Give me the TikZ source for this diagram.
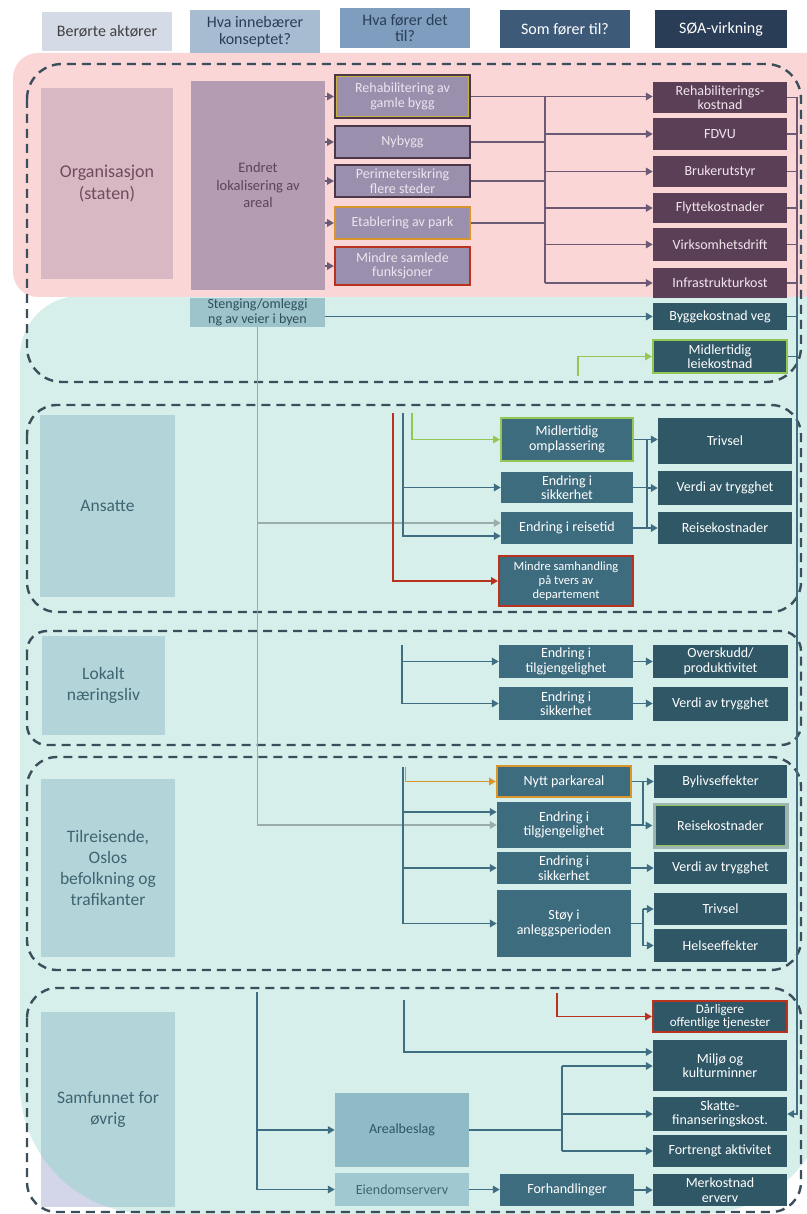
\documentclass[tikz,border=0pt]{standalone}
\usepackage{fontspec}
\setmainfont{Carlito}
\usetikzlibrary{arrows.meta}
\definecolor{pinkbg}{HTML}{FBD6D6}
\definecolor{mintbg}{HTML}{D6EFEA}
\definecolor{hdra}{HTML}{D4DAE6}
\definecolor{hdrb}{HTML}{A7BCD1}
\definecolor{hdrc}{HTML}{7E9DBF}
\definecolor{hdrd}{HTML}{3E5A79}
\definecolor{hdre}{HTML}{2A3D56}
\definecolor{orgfill}{HTML}{D8B8C3}
\definecolor{orgtext}{HTML}{6E4C5E}
\definecolor{endfill}{HTML}{B49DB3}
\definecolor{endtext}{HTML}{5C4558}
\definecolor{purpfill}{HTML}{9A90AE}
\definecolor{purptext}{HTML}{EFE3EE}
\definecolor{purpdark}{HTML}{4B3747}
\definecolor{plum}{HTML}{5B3F56}
\definecolor{plumtext}{HTML}{F2E6EE}
\definecolor{pinkln}{HTML}{6B5A75}
\definecolor{actorfill}{HTML}{B3D4D8}
\definecolor{actortext}{HTML}{3E6572}
\definecolor{stenfill}{HTML}{9DC3CB}
\definecolor{stentext}{HTML}{2F4F5C}
\definecolor{tealmid}{HTML}{3E6C7F}
\definecolor{tealdark}{HTML}{2F5766}
\definecolor{tealln}{HTML}{3F6E82}
\definecolor{grayln}{HTML}{9AACAC}
\definecolor{redb}{HTML}{B8321F}
\definecolor{greenb}{HTML}{93C653}
\definecolor{orangeb}{HTML}{D9962C}
\definecolor{yellowb}{HTML}{C9B042}
\definecolor{arealfill}{HTML}{8EBBC5}
\definecolor{eiendfill}{HTML}{9FC8D0}
\definecolor{arealtext}{HTML}{2F5565}
\definecolor{lavender}{HTML}{D3D5E8}
\definecolor{grpcol}{HTML}{3B4E5C}
\definecolor{halo}{HTML}{9FB5B5}
\begin{document}
\begin{tikzpicture}[x=1pt,y=-1pt,
  base/.style={inner sep=0.5pt, align=center, font=\fontsize{14}{14.5}\selectfont},
  hdr/.style={base, font=\fontsize{16}{16.5}\selectfont, minimum width=130pt},
  cost/.style={base, fill=plum, text=plumtext, minimum width=134pt},
  purp/.style={base, fill=purpfill, text=purptext, minimum width=135pt},
  tb/.style={base, fill=tealmid, text=white, minimum width=134pt},
  tbd/.style={base, fill=tealdark, text=white, minimum width=134pt},
  actor/.style={align=center, font=\fontsize{17.5}{21}\selectfont, fill=actorfill, text=actortext},
  grp/.style={draw=grpcol, line width=2.4pt, dash pattern=on 9pt off 6pt},
  ln/.style={line width=1.8pt},
  arr/.style={line width=1.8pt, -{Triangle[length=7pt,width=7.5pt]}},
]
\useasboundingbox (0,0) rectangle (806,1214);
\fill[white] (0,0) rectangle (806,1214);
% backgrounds
\fill[mintbg, rounded corners=60pt] (830,296) -- (20,296) -- (20,700) [rounded corners=130pt] -- (20,1214) -- (830,1214) [sharp corners] -- cycle;
\fill[pinkbg, rounded corners=25pt] (13,53) rectangle (830,297);

% headers
\node[hdr, fill=hdra, text=black!75, minimum height=39pt] (h1) at (107,31.5) {Berørte aktører};
\node[hdr, fill=hdrb, text=hdre, minimum height=43pt] (h2) at (255,31.5) {Hva innebærer\\konseptet?};
\node[hdr, fill=hdrc, text=hdre, minimum height=40pt] (h3) at (405,28) {Hva fører det\\til?};
\node[hdr, fill=hdrd, text=white, minimum height=38pt] (h4) at (565,29) {Som fører til?};
\node[hdr, fill=hdre, text=white, minimum height=38pt, minimum width=132pt] (h5) at (721,29) {SØA-virkning};

% groups
\draw[grp, rounded corners=35pt] (27,64) rectangle (801,382);
\draw[grp, rounded corners=30pt] (27,405) rectangle (801,612);
\draw[grp, rounded corners=20pt] (27,631) rectangle (801,745);
\draw[grp, rounded corners=30pt] (27,757) rectangle (801,970);
\draw[grp, rounded corners=30pt] (27,988) rectangle (801,1212);

% Organisasjon
\node[align=center, fill=orgfill, text=orgtext, font=\fontsize{18}{21.5}\selectfont, minimum width=132pt, minimum height=191pt] (org) at (107,183.5) {Organisasjon\\(staten)};
\node[align=center, fill=endfill, text=endtext, font=\fontsize{14.5}{17.5}\selectfont, minimum width=134pt, minimum height=209pt] (endret) at (258,185.5) {Endret\\lokalisering av\\areal};
\node[purp, draw=purpdark, line width=2pt, minimum height=43pt] (rehab) at (402.5,96.5) {Rehabilitering av\\gamle bygg};
\draw[yellowb, line width=1.2pt] ([shift={(2.2pt,-2.2pt)}]rehab.north west) rectangle ([shift={(-2.2pt,2.2pt)}]rehab.south east);
\node[purp, draw=purpdark, line width=2pt, minimum height=32pt] (nybygg) at (402.5,142) {Nybygg};
\node[purp, draw=purpdark, line width=2pt, minimum height=32pt] (perim) at (402.5,181) {Perimetersikring\\flere steder};
\node[purp, draw=orangeb, line width=2pt, minimum height=32pt] (etab) at (402.5,223) {Etablering av park};
\node[purp, draw=redb, line width=2pt, minimum height=38pt] (mindre) at (402.5,266) {Mindre samlede\\funksjoner};

\node[cost, minimum height=31pt] (rehabk) at (720,97.5) {Rehabiliterings-\\kostnad};
\node[cost, minimum height=32pt] (fdvu) at (720,134) {FDVU};
\node[cost, minimum height=31pt] (bruk) at (720,171.5) {Brukerutstyr};
\node[cost, minimum height=30pt] (flytte) at (720,208) {Flyttekostnader};
\node[cost, minimum height=33pt] (virk) at (720,244.5) {Virksomhetsdrift};
\node[cost, minimum height=30pt] (infra) at (720,283) {Infrastrukturkost};

\node[base, fill=stenfill, text=stentext, minimum width=135pt, minimum height=29pt] (sten) at (257.5,312.5) {Stenging/omleggi\\ng av veier i byen};
\node[tbd, minimum height=27pt] (bygg) at (720,316.5) {Byggekostnad veg};
\node[tbd, draw=greenb, line width=2pt, minimum height=33pt] (leie) at (720,356.5) {Midlertidig\\leiekostnad};

% Ansatte
\node[actor, minimum width=135pt, minimum height=182pt] (ans) at (107.5,506) {Ansatte};
\node[tb, draw=greenb, line width=2pt, minimum width=132pt, minimum height=43pt] (omp) at (567,439.5) {Midlertidig\\omplassering};
\node[tb, minimum width=132pt, minimum height=31pt] (sik1) at (567,487.5) {Endring i\\sikkerhet};
\node[tb, minimum width=132pt, minimum height=32pt] (reise1) at (567,528) {Endring i reisetid};
\node[tb, draw=redb, line width=2pt, minimum height=50pt, font=\fontsize{12.5}{14}\selectfont] (samh) at (566,581) {Mindre samhandling\\på tvers av\\departement};
\node[tbd, minimum height=46pt] (triv1) at (725,441) {Trivsel};
\node[tbd, minimum height=34pt] (verdi1) at (725,488) {Verdi av trygghet};
\node[tbd, minimum height=32pt] (reisek1) at (725,528) {Reisekostnader};

% Lokalt
\node[actor, minimum width=123pt, minimum height=99pt] (lok) at (103.5,685.5) {Lokalt\\næringsliv};
\node[tb, minimum height=33pt] (tilg1) at (566,661.5) {Endring i\\tilgjengelighet};
\node[tb, minimum height=33pt] (sik2) at (566,703.5) {Endring i\\sikkerhet};
\node[tbd, minimum width=135pt, minimum height=33pt] (overs) at (720.5,661.5) {Overskudd/\\produktivitet};
\node[tbd, minimum width=135pt, minimum height=34pt] (verdi2) at (720.5,703.5) {Verdi av trygghet};

% Tilreisende
\node[actor, minimum width=134pt, minimum height=178pt] (tilr) at (108,868) {Tilreisende,\\Oslos\\befolkning og\\trafikanter};
\node[tb, draw=orangeb, line width=2pt, minimum height=31pt] (park) at (564,781.5) {Nytt parkareal};
\node[tb, minimum height=46pt] (tilg2) at (564,825) {Endring i\\tilgjengelighet};
\node[tb, minimum height=32pt] (sik3) at (564,868) {Endring i\\sikkerhet};
\node[tb, minimum height=67pt] (stoy) at (564,923.5) {Støy i\\anleggsperioden};
\node[tbd, minimum width=133pt, minimum height=33pt] (byliv) at (720.5,781.5) {Bylivseffekter};
\node[tbd, draw=halo, line width=3pt, minimum width=133pt, minimum height=43pt] (reisek2) at (720.5,825.5) {Reisekostnader};
\draw[greenb, line width=1.4pt] ([shift={(3pt,-3pt)}]reisek2.north west) rectangle ([shift={(-3pt,3pt)}]reisek2.south east);
\node[tbd, minimum width=133pt, minimum height=32pt] (verdi3) at (720.5,868) {Verdi av trygghet};
\node[tbd, minimum width=133pt, minimum height=32pt] (triv2) at (720.5,909) {Trivsel};
\node[tbd, minimum width=133pt, minimum height=33pt] (helse) at (720.5,945.5) {Helseeffekter};

% Samfunnet
\fill[lavender] (41,1012) rectangle (175,1207);
\begin{scope}
\clip[rounded corners=60pt] (830,296) -- (20,296) -- (20,700) [rounded corners=130pt] -- (20,1214) -- (830,1214) [sharp corners] -- cycle;
\fill[actorfill] (41,1012) rectangle (175,1207);
\end{scope}
\node[align=center, font=\fontsize{17.5}{21}\selectfont, text=actortext, minimum width=134pt, minimum height=195pt] (samf) at (108,1109.5) {Samfunnet for\\øvrig};
\node[base, fill=arealfill, text=arealtext, minimum width=134pt, minimum height=74pt] (areal) at (402,1130) {Arealbeslag};
\node[base, fill=eiendfill, text=actortext, minimum width=134pt, minimum height=33pt] (eiend) at (402,1189.5) {Eiendomserverv};
\node[tb, minimum height=32pt] (forh) at (567,1190) {Forhandlinger};
\node[tbd, draw=redb, line width=2pt, minimum height=31pt, font=\fontsize{13}{13.5}\selectfont] (dar) at (720,1016.5) {Dårligere\\offentlige tjenester};
\node[tbd, minimum height=51pt] (miljo) at (720,1065.5) {Miljø og\\kulturminner};
\node[tbd, minimum height=34pt] (skatt) at (720,1114) {Skatte-\\finanseringskost.};
\node[tbd, minimum height=32pt] (fortr) at (720,1151) {Fortrengt aktivitet};
\node[tbd, minimum height=32pt] (merk) at (720,1190) {Merkostnad\\erverv};

% ---------- connectors ----------
% pink section
\foreach \n in {rehab,nybygg,perim,etab,mindre}
  \draw[arr, pinkln] (endret.east |- \n.west) -- (\n.west);
\draw[arr, pinkln] (rehab.east) -- (rehab.east -| rehabk.west);
\coordinate (pb) at (545,96.5);
\draw[ln, pinkln] (pb) -- (pb |- infra.west);
\foreach \n in {nybygg,perim,etab}
  \draw[ln, pinkln] (\n.east) -- (\n.east -| pb);
\foreach \n in {fdvu,bruk,flytte,virk,infra}
  \draw[arr, pinkln] (pb |- \n.west) -- (\n.west);
% right collector
\coordinate (rb) at (797,97.5);
\foreach \n in {rehabk,fdvu,bruk,flytte,virk,infra}
  \draw[ln, pinkln] (\n.east) -- (\n.east -| rb);
\draw[ln, pinkln] (rb) -- (797,296);
\foreach \n in {bygg,leie}
  \draw[ln, tealln] (\n.east) -- (\n.east -| rb);
\coordinate (rbm) at (797,296);
\draw[arr, tealln] (rbm) |- (skatt.east);
% Stenging
\draw[arr, tealln] (sten.east |- bygg.west) -- (bygg.west);
\coordinate (gL) at (578,376);
\draw[arr, greenb] (gL) |- (leie.west);
\draw[arr, grayln] (sten.south) |- (tilg2.west);
\coordinate (gA) at (257.5,523);
\draw[arr, grayln] (gA) -- (gA -| reise1.west);
% Ansatte
\coordinate (rA) at (393,413);
\draw[arr, redb] (rA) |- (samh.west);
\coordinate (bA) at (403,413);
\coordinate (bA2) at (403,536);
\draw[arr, tealln] (bA) |- (bA2 -| reise1.west);
\draw[arr, tealln] (bA |- sik1.west) -- (sik1.west);
\coordinate (gA0) at (412,413);
\draw[arr, greenb] (gA0) |- (omp.west);
\coordinate (aRt) at (647,439.5);
\coordinate (aRb) at (647,528);
\draw[ln, tealln] (omp.east) -- (aRt) -- (aRb);
\draw[ln, tealln] (sik1.east) -- (sik1.east -| aRt);
\draw[ln, tealln] (reise1.east) -- (aRb);
\draw[arr, tealln] (aRt) -- (aRt -| triv1.west);
\draw[arr, tealln] (aRt |- verdi1.west) -- (verdi1.west);
\draw[arr, tealln] (aRb) -- (reisek1.west);
% Lokalt
\coordinate (lB) at (402,645);
\draw[arr, tealln] (lB) |- (sik2.west);
\draw[arr, tealln] (lB |- tilg1.west) -- (tilg1.west);
\draw[arr, tealln] (tilg1.east) -- (overs.west);
\draw[arr, tealln] (sik2.east) -- (verdi2.west);
% Tilreisende
\coordinate (tB) at (403,767);
\draw[arr, tealln] (tB) |- (stoy.west);
\coordinate (tB1) at (403,812);
\draw[arr, tealln] (tB1) -- (tB1 -| tilg2.west);
\draw[arr, tealln] (tB |- sik3.west) -- (sik3.west);
\coordinate (oT) at (405.5,767);
\draw[arr, orangeb] (oT) |- (park.west);
\coordinate (tR1) at (643,781.5);
\draw[ln, tealln] (park.east) -- (tR1) -- (tR1 |- reisek2.west);
\draw[ln, tealln] (tilg2.east) -- (tilg2.east -| tR1);
\draw[arr, tealln] (tR1) -- (byliv.west);
\draw[arr, tealln] (tR1 |- reisek2.west) -- (reisek2.west);
\draw[arr, tealln] (sik3.east) -- (verdi3.west);
\coordinate (tR2) at (643,923.5);
\draw[ln, tealln] (stoy.east) -- (tR2);
\draw[ln, tealln] (tR2 |- triv2.west) -- (tR2 |- helse.west);
\draw[arr, tealln] (tR2 |- triv2.west) -- (triv2.west);
\draw[arr, tealln] (tR2 |- helse.west) -- (helse.west);
% Samfunnet
\coordinate (sB) at (257,992);
\draw[arr, tealln] (sB) |- (eiend.west);
\draw[arr, tealln] (sB |- areal.west) -- (areal.west);
\coordinate (sM) at (404,1000);
\coordinate (sM2) at (404,1052);
\draw[arr, tealln] (sM) |- (sM2 -| miljo.west);
\coordinate (sR) at (557,993);
\draw[arr, redb] (sR) |- (dar.west);
\coordinate (sA) at (562,1130);
\coordinate (sAt) at (562,1066);
\draw[ln, tealln] (areal.east) -- (sA);
\draw[ln, tealln] (sAt) -- (sA |- fortr.west);
\draw[arr, tealln] (sAt) -- (sAt -| miljo.west);
\draw[arr, tealln] (sA |- skatt.west) -- (skatt.west);
\draw[arr, tealln] (sA |- fortr.west) -- (fortr.west);
\draw[arr, tealln] (eiend.east) -- (eiend.east -| forh.west);
\draw[arr, tealln] (forh.east) -- (merk.west);
\end{tikzpicture}
\end{document}
